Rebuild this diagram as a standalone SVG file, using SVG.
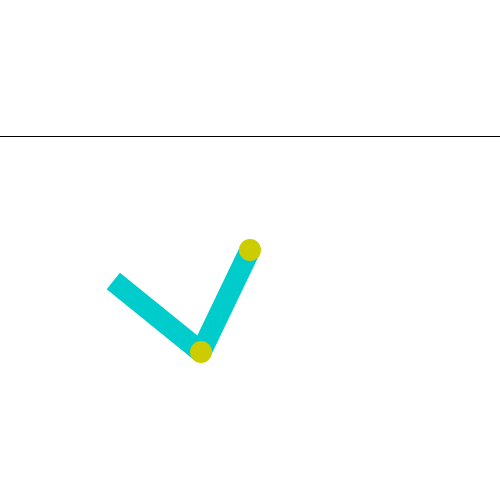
<svg xmlns="http://www.w3.org/2000/svg" width="500" height="500" viewBox="0 0 500 500">
<style>
.bar{stroke:#00CCCC;stroke-width:21;stroke-linecap:butt;fill:none}
.joint{fill:#CCCC00}
</style>
<rect width="500" height="500" fill="#fff"/>
<line x1="0" y1="136.5" x2="500" y2="136.5" stroke="#000" stroke-width="1"/>
<g id="connectors">
<line class="bar" x1="113.3" y1="281" x2="201" y2="352"/>
<line class="bar" x1="201" y1="352" x2="250" y2="250"/>
</g>
<g id="joint1"><circle class="joint" cx="201" cy="352" r="11"/></g>
<g id="joint2"><circle class="joint" cx="250" cy="250" r="11"/></g>
</svg>
